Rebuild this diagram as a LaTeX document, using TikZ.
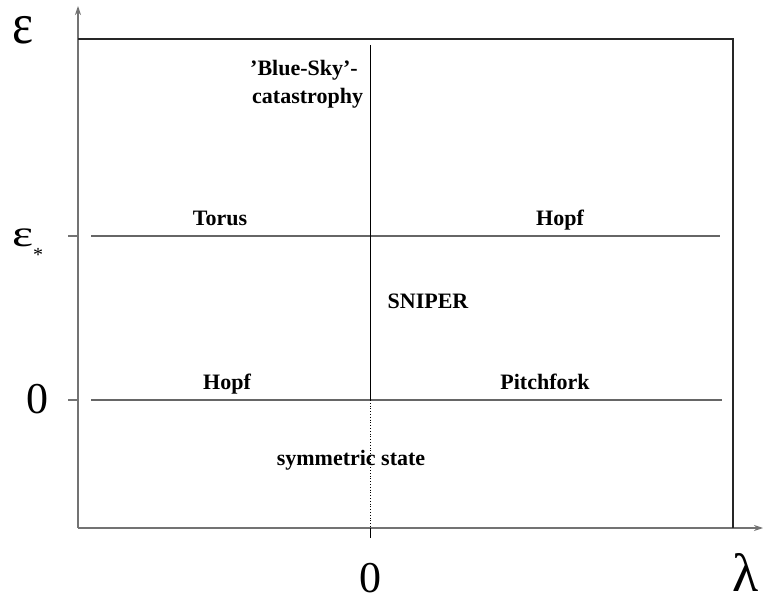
\documentclass[tikz,border=0pt]{standalone}
\usepackage{fontspec}
\setmainfont{Liberation Serif}
\usetikzlibrary{arrows.meta}
\begin{document}
\begin{tikzpicture}[x=1pt,y=-1pt,
  lbl/.style={font=\fontsize{22}{25}\selectfont\bfseries, inner sep=0pt, anchor=base},
  big/.style={font=\fontsize{44}{48}\selectfont, inner sep=0pt},
  axis/.style={draw=black!55, line width=1.2pt},
  frame/.style={draw=black!85, line width=1.1pt},
  hline/.style={draw=black!60, line width=1.1pt},
  vline/.style={draw=black, line width=0.9pt}]
\useasboundingbox (0,0) rectangle (763,601);
% coordinates
\coordinate (O) at (78,528);
\coordinate (ytop) at (78,6);
\coordinate (xend) at (763,528);
\coordinate (bl) at (78,39);
\coordinate (br) at (733,39);
\coordinate (brb) at (733,528);
% axes
\draw[axis,-{Stealth[length=9pt,width=6pt]}] (O) -- (ytop);
\draw[axis,-{Stealth[length=9pt,width=6pt]}] (O) -- (xend);
% frame
\draw[frame] (bl) -- (br) -- (brb);
% ticks
\coordinate (t1a) at (68,236); \coordinate (t1b) at (78,236);
\coordinate (t2a) at (68,400); \coordinate (t2b) at (78,400);
\coordinate (t3a) at (370,528); \coordinate (t3b) at (370,538);
\draw[axis] (t1a) -- (t1b);
\draw[axis] (t2a) -- (t2b);
\draw[vline] (t3a) -- (t3b);
% horizontal lines
\coordinate (h1a) at (91,236); \coordinate (h1b) at (720,236);
\coordinate (h2a) at (91,400); \coordinate (h2b) at (722,400);
\draw[hline] (h1a) -- (h1b);
\draw[hline] (h2a) -- (h2b);
% vertical line
\coordinate (v1) at (370,45); \coordinate (v2) at (370,400); \coordinate (v3) at (370,528);
\draw[vline] (v1) -- (v2);
\draw[black, line width=0.8pt, dotted] (v2) -- (v3);
% axis labels
\node[inner sep=0pt, anchor=base west] (eps) at (12,44) {\fontsize{50}{50}\selectfont\scalebox{1}[1.15]{ε}};
\node[inner sep=0pt, anchor=base west] (epss) at (12,247) {\fontsize{50}{50}\selectfont\scalebox{1}[0.75]{ε}\raisebox{-0.3em}{\fontsize{20}{20}\selectfont *}};
\node[big] (zy) at (37,399) {0};
\node[big] (zx) at (370,578) {0};
\node[inner sep=0pt, font=\fontsize{54}{56}\selectfont] (lam) at (746,572) {λ};
% region labels
\node[lbl] (torus) at (220,226) {Torus};
\node[lbl] (hopf1) at (560,226) {Hopf};
\node[lbl] (sniper) at (428,309) {SNIPER};
\node[lbl] (hopf2) at (227,389) {Hopf};
\node[lbl] (pitch) at (545,389) {Pitchfork};
\node[lbl] (sym) at (351,465) {symmetric state};
\node[lbl, anchor=base west] (bs1) at (250,76) {’Blue-Sky’-};
\node[lbl, anchor=base west] (bs2) at (252,104) {catastrophy};
\end{tikzpicture}
\end{document}
